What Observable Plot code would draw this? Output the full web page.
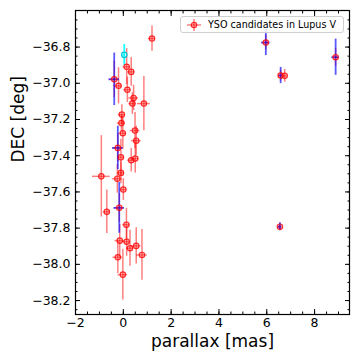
<!DOCTYPE html>
<html><head><meta charset="utf-8">
<script src="https://cdn.jsdelivr.net/npm/d3@7"></script>
<script src="https://cdn.jsdelivr.net/npm/@observablehq/plot@0.6"></script>
<style>
body{margin:0;background:#fff;}
#wrap{position:relative;width:360px;height:360px;font-family:"DejaVu Sans",sans-serif;}
#legend{position:absolute;left:180px;top:16px;width:164px;height:17px;border:1px solid #d0d0d0;border-radius:3px;background:rgba(255,255,255,0.85);box-sizing:border-box;font-size:9.6px;display:flex;align-items:center;white-space:nowrap;}
#legend svg{margin-left:5px;margin-right:6px;}
</style></head><body><div id="wrap"></div>
<script>
// Red series: YSO candidates in Lupus V
const parallax    = [1.20, 0.14, 0.33, -0.38, -0.20, 0.17, 0.43, 0.38, 0.86, -0.06, -0.08, -0.02, 0.49, 0.54, -0.23, -0.10, 0.33, 0.50, -0.92, -0.10, -0.25, 0.00, -0.17, -0.69, 0.13, -0.15, 0.14, 0.28, 0.54, 0.78, -0.23, -0.02, 5.96, 6.58, 6.75, 8.88, 6.55];
const parallaxErr = [0.15, 0.15, 0.15, 0.20, 0.15, 0.15, 0.20, 0.15, 0.27, 0.15, 0.17, 0.15, 0.20, 0.20, 0.20, 0.15, 0.15, 0.15, 0.37, 0.15, 0.20, 0.15, 0.20, 0.15, 0.15, 0.20, 0.15, 0.15, 0.20, 0.22, 0.20, 0.20, 0.12, 0.08, 0.10, 0.10, 0.06];
const dec         = [-36.753, -36.909, -36.937, -36.978, -37.014, -37.036, -37.081, -37.112, -37.112, -37.173, -37.220, -37.276, -37.261, -37.317, -37.357, -37.409, -37.425, -37.416, -37.514, -37.495, -37.527, -37.587, -37.688, -37.710, -37.781, -37.869, -37.875, -37.911, -37.898, -37.948, -37.961, -38.057, -36.775, -36.957, -36.959, -36.856, -37.792];
const decErr      = [0.07, 0.10, 0.08, 0.10, 0.10, 0.07, 0.07, 0.06, 0.15, 0.055, 0.045, 0.09, 0.10, 0.08, 0.08, 0.10, 0.065, 0.08, 0.225, 0.06, 0.08, 0.06, 0.08, 0.12, 0.09, 0.09, 0.08, 0.10, 0.10, 0.14, 0.09, 0.14, 0.04, 0.03, 0.035, 0.05, 0.015];

// Blue error bars
const blueParallax    = [-0.38, -0.23, -0.17, 5.96, 6.58, 8.88, 6.55];
const blueParallaxErr = [0.22, 0.22, 0.22, 0.18, 0.08, 0.16, 0.08];
const blueDec         = [-36.978, -37.357, -37.688, -36.775, -36.957, -36.856, -37.792];
const blueDecErr      = [0.145, 0.12, 0.14, 0.072, 0.045, 0.10, 0.022];

// Cyan point
const cyanParallax    = [0.04];
const cyanParallaxErr = [0.05];
const cyanDec         = [-36.843];
const cyanDecErr      = [0.058];

const xTicks = [-2, 0, 2, 4, 6, 8];
const yTicks = [-38.2, -38.0, -37.8, -37.6, -37.4, -37.2, -37.0, -36.8];
const legendLabel = "YSO candidates in Lupus V";
const xLabel = "parallax [mas]";
const yLabel = "DEC [deg]";

const red = parallax.map((p, i) => ({x: p, xe: parallaxErr[i], y: dec[i], ye: decErr[i]}));
const blue = blueParallax.map((p, i) => ({x: p, xe: blueParallaxErr[i], y: blueDec[i], ye: blueDecErr[i]}));
const cyan = cyanParallax.map((p, i) => ({x: p, xe: cyanParallaxErr[i], y: cyanDec[i], ye: cyanDecErr[i]}));

const xMinor = d3.range(-2, 9.5, 0.5);
const yMinor = d3.range(-38.25, -36.6, 0.05).map(v => +v.toFixed(2));
const fmtY = d3.format(".1f");

function errBars(data, color, opacity, width) {
  return [
    Plot.ruleY(data, {y: "y", x1: d => d.x - d.xe, x2: d => d.x + d.xe, stroke: color, strokeOpacity: opacity, strokeWidth: width}),
    Plot.ruleX(data, {x: "x", y1: d => d.y - d.ye, y2: d => d.y + d.ye, stroke: color, strokeOpacity: opacity, strokeWidth: width})
  ];
}

const chart = Plot.plot({
  width: 360, height: 360,
  marginLeft: 75, marginRight: 11, marginTop: 10, marginBottom: 46,
  x: {domain: [-2, 9.46]},
  y: {domain: [-38.277, -36.598]},
  style: {fontFamily: "DejaVu Sans", fontSize: "12.5px", background: "white", color: "black", overflow: "visible"},
  marks: [
    ...errBars(red, "red", 0.5, 1.5),
    ...errBars(blue, "blue", 0.65, 1.8),
    ...errBars(cyan, "cyan", 0.9, 1.8),
    Plot.dot(red, {x: "x", y: "y", r: 2.7, stroke: "red", strokeWidth: 1.2, fill: "red", fillOpacity: 0.2, strokeOpacity: 0.8}),
    Plot.dot(cyan, {x: "x", y: "y", r: 2.7, stroke: "#00c8d8", strokeWidth: 1.3, fill: "none"}),
    Plot.frame({stroke: "black", strokeWidth: 1.2}),
    Plot.axisX(xTicks, {anchor: "bottom", tickSize: 0, tickPadding: 4, tickFormat: d => d3.format("d")(d), label: null}),
    Plot.axisX(xTicks, {anchor: "bottom", tickSize: -5, tickFormat: () => "", label: null}),
    Plot.axisX(xTicks, {anchor: "top", tickSize: -5, tickFormat: () => "", label: null}),
    Plot.axisX(xMinor, {anchor: "bottom", tickSize: -2.5, tickFormat: () => "", label: null}),
    Plot.axisX(xMinor, {anchor: "top", tickSize: -2.5, tickFormat: () => "", label: null}),
    Plot.axisY(yTicks, {anchor: "left", tickSize: 0, tickPadding: 5, tickFormat: fmtY, label: null}),
    Plot.axisY(yTicks, {anchor: "left", tickSize: -5, tickFormat: () => "", label: null}),
    Plot.axisY(yTicks, {anchor: "right", tickSize: -5, tickFormat: () => "", label: null}),
    Plot.axisY(yMinor, {anchor: "left", tickSize: -2.5, tickFormat: () => "", label: null}),
    Plot.axisY(yMinor, {anchor: "right", tickSize: -2.5, tickFormat: () => "", label: null}),
    Plot.text([xLabel], {frameAnchor: "bottom", dy: 27, text: d => d, fontSize: 17, lineAnchor: "middle"}),
    Plot.text([yLabel], {frameAnchor: "left", dx: -57, rotate: -90, text: d => d, fontSize: 17, lineAnchor: "middle"})
  ]
});

const wrap = document.getElementById("wrap");
wrap.appendChild(chart);
const leg = document.createElement("div");
leg.id = "legend";
leg.innerHTML = `<svg width="16" height="12"><line x1="1" x2="15" y1="6" y2="6" stroke="red" stroke-opacity="0.5" stroke-width="1.5"/><line x1="8" x2="8" y1="0" y2="12" stroke="red" stroke-opacity="0.5" stroke-width="1.5"/><circle cx="8" cy="6" r="2.7" stroke="red" stroke-opacity="0.8" stroke-width="1.2" fill="red" fill-opacity="0.2"/></svg><span></span>`;
leg.querySelector("span").textContent = legendLabel;
wrap.appendChild(leg);
</script>
</body></html>
